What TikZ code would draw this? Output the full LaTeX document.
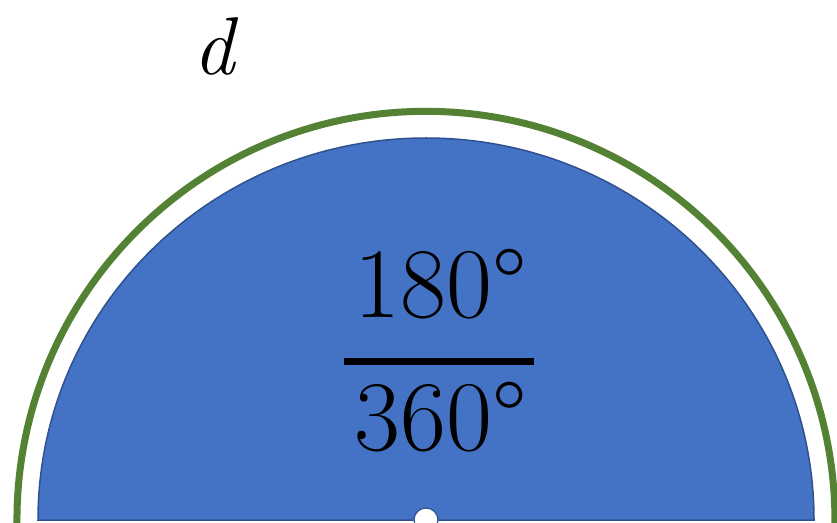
\documentclass[tikz,border=0pt]{standalone}
\usepackage{fontspec}
\definecolor{segblue}{HTML}{4472C4}
\definecolor{segedge}{HTML}{2F528F}
\definecolor{arcgreen}{HTML}{548235}
\tikzset{
  bignum/.style={inner sep=0pt, anchor=base, font=\fontsize{100}{102}\selectfont},
}
\begin{document}
\begin{tikzpicture}[x=1pt, y=1pt]
    \useasboundingbox (0,0) rectangle (837,522);
    \clip (0,0) rectangle (837,522);

    % Half disc
    \filldraw[fill=segblue, draw=segedge, line width=1.5pt]
        (38,2) arc[start angle=180, end angle=0, x radius=388, y radius=382] -- cycle;

    % Outer arc
    \draw[arcgreen, line width=7pt]
        (17,-4) arc[start angle=180.8, end angle=-0.8, radius=409];

    % Centre point
    \filldraw[fill=white, draw=segedge, line width=1.2pt] (426,2) circle (12);

    % Labels
    \node[inner sep=0pt, anchor=base, font=\fontsize{82}{84}\selectfont\itshape] (dlab) at (214,447) {d};
    \node[bignum] (num) at (441,204) {180°};
    \node[bignum] (den) at (441,72) {360°};

    % Fraction bar
    \coordinate (barL) at (344,160);
    \coordinate (barR) at (534,160);
    \draw[line width=7pt] (barL) -- (barR);
\end{tikzpicture}
\end{document}
